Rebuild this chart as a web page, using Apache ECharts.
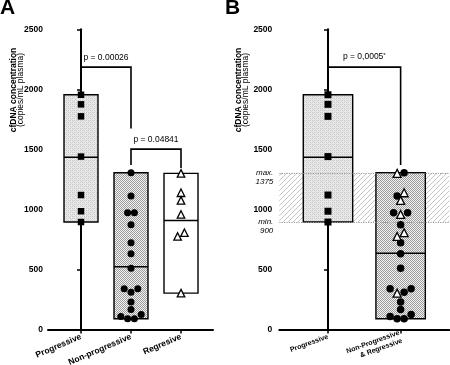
<!DOCTYPE html>
<html>
<head>
<meta charset="utf-8">
<script src="https://cdn.jsdelivr.net/npm/echarts@6/dist/echarts.min.js"></script>
<style>
  html, body { margin: 0; padding: 0; background: #fff; }
  #chart { width: 450px; height: 365px; }
</style>
</head>
<body>
<div id="chart"></div>
<script>
// values (copies/mL plasma)
const progVals = [1955, 1875, 1775, 1440, 1120, 985, 895];
const nonProgVals = [1305, 1111, 972, 972, 872, 722, 631, 511, 339, 339, 311, 228, 166, 124, 108, 89, 89];
const regVals = [1300, 1139, 1075, 958, 806, 775, 303];

const catsA = ['Progressive', 'Non-progressive', 'Regresive'];
const catsB = ['Progressive', 'Non-Progressive\n& Regressive'];
const yTicks = [0, 500, 1000, 1500, 2000, 2500];

const pLabelsA = ['p = 0.00026', 'p = 0.04841'];
const pLabelsB = ['p = 0,0005{s|*}'];
const bandLabels = ['max.\n1375', 'min.\n900'];

const FONT = 'Liberation Sans, Arial, sans-serif';
const HW = 0.34;      // half width of the range boxes, in category units
const ROW_GAP = 37;   // points closer than this share a swarm row
const XB_MIN = -0.67, XB_MAX = 1.67;

function tile(w, h, draw) {
    const c = document.createElement('canvas');
    c.width = w; c.height = h;
    draw(c.getContext('2d'));
    return { image: c, repeat: 'repeat' };
}
// light grey texture (progressive)
const fillLight = tile(4, 4, g => {
    g.fillStyle = '#eaeaea'; g.fillRect(0, 0, 4, 4);
    g.fillStyle = '#c8c8c8';
    g.fillRect(0, 0, 1, 1); g.fillRect(2, 2, 1, 1); g.fillRect(2, 0, 1, 1); g.fillRect(0, 2, 1, 1);
    g.fillStyle = '#d9d9d9'; g.fillRect(1, 1, 1, 1); g.fillRect(3, 3, 1, 1);
});
// dotted texture (non progressive)
const fillDots = tile(2, 2, g => {
    g.fillStyle = '#f2f2f2'; g.fillRect(0, 0, 2, 2);
    g.fillStyle = '#9c9c9c'; g.fillRect(0, 0, 1, 1); g.fillRect(1, 1, 1, 1);
});
// diagonal hatch for the overlap band
const fillHatch = tile(5, 5, g => {
    g.fillStyle = '#ffffff'; g.fillRect(0, 0, 5, 5);
    g.fillStyle = '#c4c4c4';
    for (let i = 0; i < 5; i++) g.fillRect(i, 4 - i, 1, 1);
});

function mean(a) { return a.reduce((s, v) => s + v, 0) / a.length; }
function rangeBox(i, a) { return [i, Math.min(...a), Math.max(...a), mean(a)]; }

// simple swarm: rows of close values, centred, filled right/left inwards
function swarm(vals, stepPx) {
    const idx = vals.map((v, i) => i).sort((a, b) => vals[b] - vals[a]);
    const off = new Array(vals.length).fill(0);
    let k = 0;
    while (k < idx.length) {
        const row = [idx[k]];
        let j = k + 1;
        while (j < idx.length && vals[idx[k]] - vals[idx[j]] <= ROW_GAP) { row.push(idx[j]); j++; }
        const n = row.length;
        let lo = 0, hi = n - 1;
        row.forEach((id, m) => {
            const slot = m % 2 === 0 ? hi-- : lo++;
            off[id] = (slot - (n - 1) / 2) * stepPx;
        });
        k = j;
    }
    return off;
}
function points(x, vals, offs) {
    return vals.map((v, i) => ({ value: [x, v], symbolOffset: [offs[i], 0] }));
}

const offProgA = swarm(progVals, 6.8);
const offNpA = swarm(nonProgVals, 6.8);
const offRegA = swarm(regVals, 6.8);
const combined = nonProgVals.concat(regVals);
const offComb = swarm(combined, 7);
const offNpB = offComb.slice(0, nonProgVals.length);
const offRegB = offComb.slice(nonProgVals.length);
const offProgB = swarm(progVals, 7);

const bandLow = Math.min(...progVals);
const bandHigh = Math.max(...combined);

function renderBox(fills) {
    return function (params, api) {
        const x = api.value(0), lo = api.value(1), hi = api.value(2), m = api.value(3);
        const a = api.coord([x - HW, hi]), b = api.coord([x + HW, lo]);
        const ma = api.coord([x - HW, m]), mb = api.coord([x + HW, m]);
        return {
            type: 'group',
            children: [
                { type: 'rect', shape: { x: a[0], y: a[1], width: b[0] - a[0], height: b[1] - a[1] },
                  style: { fill: fills[params.dataIndex], stroke: '#000', lineWidth: 1.4 } },
                { type: 'line', shape: { x1: ma[0], y1: ma[1], x2: mb[0], y2: mb[1] },
                  style: { stroke: '#000', lineWidth: 1.4 } }
            ]
        };
    };
}

function renderBracket(labels) {
    return function (params, api) {
        const x1 = api.value(0), x2 = api.value(1), top = api.value(2), l = api.value(3), r = api.value(4);
        const p1 = api.coord([x1, l]), p2 = api.coord([x1, top]), p3 = api.coord([x2, top]), p4 = api.coord([x2, r]);
        return {
            type: 'group',
            children: [
                { type: 'polyline', shape: { points: [p1, p2, p3, p4] },
                  style: { stroke: '#000', lineWidth: 1.6, fill: null } },
                { type: 'text', x: (p2[0] + p3[0]) / 2, y: p2[1] - 5,
                  style: { text: labels[params.dataIndex], align: 'center', verticalAlign: 'bottom',
                           fontFamily: FONT, fontSize: 8.5, fill: '#000',
                           rich: { s: { fontFamily: FONT, fontSize: 6, padding: [0, 0, 4, 0] } } } }
            ]
        };
    };
}

// italic "max./min." notes left of the B axis, first line level with the band edge
function renderBandLabel(params, api) {
    const p = api.coord([XB_MIN, api.value(0)]);
    return {
        type: 'text', x: p[0] - 6, y: p[1] - 4.5,
        style: { text: bandLabels[params.dataIndex], align: 'right', verticalAlign: 'top',
                 fontFamily: FONT, fontStyle: 'italic', fontSize: 8, lineHeight: 9, fill: '#000' }
    };
}

function yAxisCfg(gi, margin) {
    return {
        type: 'value', gridIndex: gi, min: 0, max: 2500, interval: 500,
        axisLine: { show: true, lineStyle: { color: '#000', width: 2 } },
        axisTick: { show: true, length: 4, lineStyle: { color: '#000', width: 1.5 },
                    customValues: gi === 1 ? yTicks.concat([bandLow, bandHigh]) : yTicks },
        axisLabel: { color: '#000', fontFamily: FONT, fontWeight: 'bold', fontSize: 8.5, margin: margin,
                     customValues: yTicks, formatter: v => String(v) },
        splitLine: { show: false }
    };
}
function xAxisCfg(gi, min, max, cats, rot, fs) {
    return {
        type: 'value', gridIndex: gi, min: min, max: max,
        axisLine: { show: true, onZero: false, lineStyle: { color: '#000', width: 2 } },
        axisTick: { show: true, length: 4, lineStyle: { color: '#000', width: 1.5 },
                    customValues: cats.map((c, i) => i) },
        axisLabel: { show: true, rotate: rot, margin: 7, color: '#000', fontFamily: FONT,
                     fontWeight: 'bold', fontSize: fs, lineHeight: fs + 1.5,
                     customValues: cats.map((c, i) => i), formatter: v => cats[v] },
        splitLine: { show: false }
    };
}

function scatter(xi, data, symbol, size, filled) {
    return {
        type: 'scatter', xAxisIndex: xi, yAxisIndex: xi, data: data, symbol: symbol, symbolSize: size,
        itemStyle: filled ? { color: '#000', opacity: 1 } : { color: '#fff', borderColor: '#000', borderWidth: 1.3, opacity: 1 },
        z: 5, silent: true
    };
}

const chart = echarts.init(document.getElementById('chart'), null, { renderer: 'canvas' });
chart.setOption({
    animation: false,
    backgroundColor: '#fff',
    grid: [
        { left: 48, top: 29.3, width: 165, height: 300.2, containLabel: false, outerBoundsMode: 'none' },
        { left: 279.3, top: 29.3, width: 170, height: 300.2, containLabel: false, outerBoundsMode: 'none' }
    ],
    xAxis: [
        xAxisCfg(0, -0.66, 2.64, catsA, 23, 8.5),
        xAxisCfg(1, XB_MIN, XB_MAX, catsB, 20, 7)
    ],
    yAxis: [yAxisCfg(0, 5), yAxisCfg(1, 7)],
    graphic: [
        { type: 'text', left: 0, top: -2, style: { text: 'A', font: 'bold 21px ' + FONT, fill: '#000' } },
        { type: 'text', left: 225, top: -2, style: { text: 'B', font: 'bold 21px ' + FONT, fill: '#000' } },
        { type: 'text', x: 13.5, y: 90, rotation: Math.PI / 2,
          style: { text: 'cfDNA concentration', font: 'bold 8.5px ' + FONT, fill: '#000', align: 'center', verticalAlign: 'middle' } },
        { type: 'text', x: 21, y: 90, rotation: Math.PI / 2,
          style: { text: '(copies/mL plasma)', font: '8.5px ' + FONT, fill: '#000', align: 'center', verticalAlign: 'middle' } },
        { type: 'text', x: 238.5, y: 90, rotation: Math.PI / 2,
          style: { text: 'cfDNA concentration', font: 'bold 8.5px ' + FONT, fill: '#000', align: 'center', verticalAlign: 'middle' } },
        { type: 'text', x: 246, y: 90, rotation: Math.PI / 2,
          style: { text: '(copies/mL plasma)', font: '8.5px ' + FONT, fill: '#000', align: 'center', verticalAlign: 'middle' } }
    ],
    series: [
        // panel A
        {
            type: 'custom', xAxisIndex: 0, yAxisIndex: 0, silent: true, z: 2,
            renderItem: renderBox([fillLight, fillDots, '#fff']),
            data: [rangeBox(0, progVals), rangeBox(1, nonProgVals), rangeBox(2, regVals)]
        },
        scatter(0, points(0, progVals, offProgA), 'rect', 6.5, true),
        scatter(0, points(1, nonProgVals, offNpA), 'circle', 7, true),
        scatter(0, points(2, regVals, offRegA), 'triangle', 7.5, false),
        {
            type: 'custom', xAxisIndex: 0, yAxisIndex: 0, silent: true, z: 6,
            renderItem: renderBracket(pLabelsA),
            data: [[0, 1, 2185, 2025, 1674], [1, 2, 1502, 1369, 1345]]
        },
        // panel B
        {
            type: 'custom', xAxisIndex: 1, yAxisIndex: 1, silent: true, z: 2,
            renderItem: renderBox([fillLight, fillDots]),
            data: [rangeBox(0, progVals), rangeBox(1, combined)],
            markArea: {
                silent: true,
                itemStyle: { color: fillHatch },
                data: [[{ yAxis: bandLow }, { yAxis: bandHigh }]]
            },
            markLine: {
                silent: true, symbol: 'none',
                lineStyle: { color: '#9a9a9a', type: 'dotted', width: 1.2 },
                label: { show: false },
                data: [{ yAxis: bandHigh }, { yAxis: bandLow }]
            }
        },
        {
            type: 'custom', xAxisIndex: 1, yAxisIndex: 1, silent: true, z: 6, clip: false,
            renderItem: renderBandLabel,
            data: [[bandHigh], [bandLow]]
        },
        scatter(1, points(0, progVals, offProgB), 'rect', 7, true),
        scatter(1, points(1, nonProgVals, offNpB), 'circle', 7.5, true),
        scatter(1, points(1, regVals, offRegB), 'triangle', 8, false),
        {
            type: 'custom', xAxisIndex: 1, yAxisIndex: 1, silent: true, z: 6,
            renderItem: renderBracket(pLabelsB),
            data: [[0, 1, 2185, 2025, 1369]]
        }
    ]
});
</script>
</body>
</html>
